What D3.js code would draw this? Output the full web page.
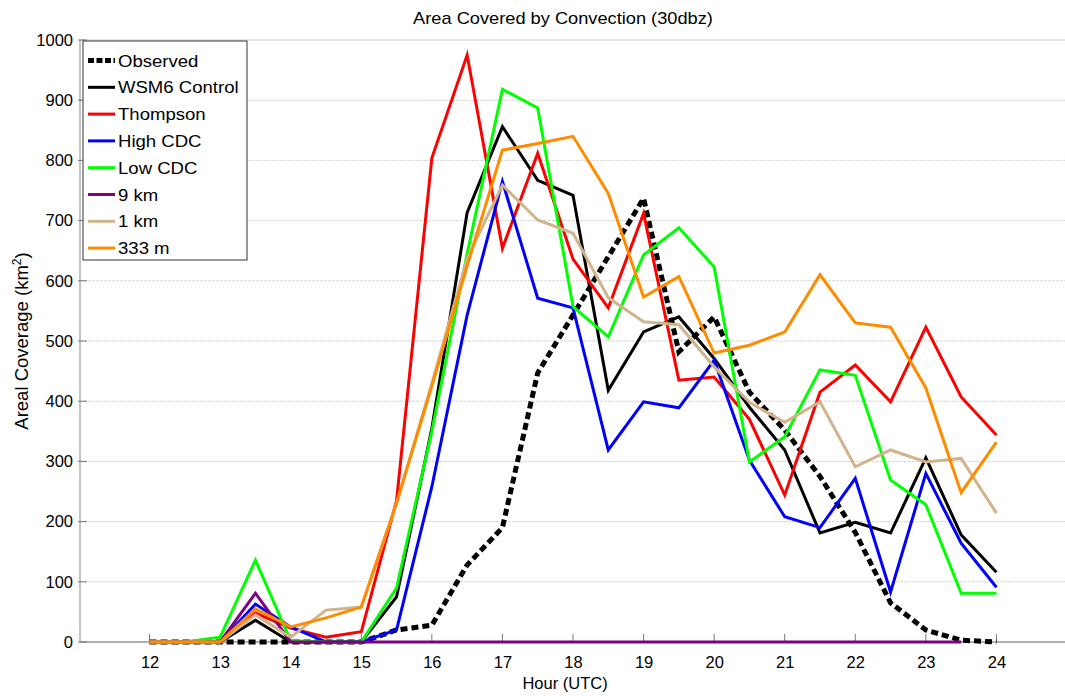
<!DOCTYPE html>
<html>
<head>
<meta charset="utf-8">
<script src="https://cdn.jsdelivr.net/npm/d3@7"></script>
<style>
  body { margin: 0; background: #fff; }
  svg { display: block; }
  text { font-family: "Liberation Sans", Arial, Helvetica, sans-serif; fill: #000; }
</style>
</head>
<body>
<svg id="chart" width="1065" height="696"></svg>
<script>
// Half-hourly samples, 12 UTC to 24 UTC
const hours = [12, 12.5, 13, 13.5, 14, 14.5, 15, 15.5, 16, 16.5, 17, 17.5, 18,
               18.5, 19, 19.5, 20, 20.5, 21, 21.5, 22, 22.5, 23, 23.5, 24];

// Areal coverage (km^2) of reflectivity >= 30 dBZ
const observed    = [0, 0, 0, 0, 0, 0, 0, 20, 28, 128, 190, 447, 543, 640, 737, 482, 540, 415, 352, 275, 182, 65, 20, 3, 0];
const wsm6Control = [0, 0, 0, 36, 0, 0, 0, 75, 355, 713, 856, 767, 742, 418, 515, 540, 471, 390, 319, 181, 199, 181, 306, 178, 116];
const thompson    = [0, 0, 0, 48, 23, 8, 17, 235, 804, 975, 654, 812, 636, 555, 712, 435, 440, 370, 244, 415, 460, 399, 523, 407, 344];
const highCDC     = [0, 0, 0, 63, 25, 0, 0, 20, 258, 543, 765, 571, 555, 319, 399, 389, 468, 302, 208, 190, 272, 83, 280, 164, 91];
const lowCDC      = [0, 0, 8, 136, 2, 0, 0, 90, 350, 645, 918, 887, 557, 507, 643, 688, 623, 299, 341, 452, 443, 269, 228, 81, 81];
const res9km      = [0, 0, 0, 81, 0, 0, 0, 0, 0, 0, 0, 0, 0, 0, 0, 0, 0, 0, 0, 0, 0, 0, 0, 0, null];
const res1km      = [0, 0, 0, 45, 8, 53, 58, 230, 430, 637, 759, 701, 679, 572, 532, 527, 457, 398, 365, 399, 291, 319, 299, 305, 214];
const res333m     = [0, 0, 0, 55, 25, 40, 58, 231, 425, 625, 817, 828, 840, 745, 573, 607, 480, 493, 515, 610, 530, 523, 422, 248, 332];

const seriesNames = ["Observed", "WSM6 Control", "Thompson", "High CDC", "Low CDC", "9 km", "1 km", "333 m"];
const seriesValues = [observed, wsm6Control, thompson, highCDC, lowCDC, res9km, res1km, res333m];

const xTickValues = [12, 13, 14, 15, 16, 17, 18, 19, 20, 21, 22, 23, 24];
const yTickValues = [0, 100, 200, 300, 400, 500, 600, 700, 800, 900, 1000];

// Line styling per series (same order as seriesNames)
const seriesStyle = [
  { color: "#000000", width: 5, dash: "7,4" },
  { color: "#000000", width: 3 },
  { color: "#ff0000", width: 3 },
  { color: "#0000ff", width: 3 },
  { color: "#00ff00", width: 3 },
  { color: "#800080", width: 3 },
  { color: "#d2b48c", width: 3 },
  { color: "#ff8c00", width: 3 }
];

const svg = d3.select("#chart");
const plotLeft = 80, plotTop = 40, plotBottom = 642, plotRight = 1065;

const x = d3.scaleLinear().domain([11, 25]).range([79, 1067]);
const y = d3.scaleLinear().domain([0, 1000]).range([plotBottom, plotTop]);

// Horizontal dotted grid
svg.append("g")
  .selectAll("line")
  .data(yTickValues)
  .join("line")
  .attr("x1", plotLeft).attr("x2", plotRight)
  .attr("y1", d => y(d)).attr("y2", d => y(d))
  .attr("stroke", d => d === 1000 ? "#c8c8c8" : "#d6d6d6")
  .attr("stroke-width", 1)
  .attr("stroke-dasharray", d => d === 1000 ? null : "3,1");

// Axis frame lines
svg.append("line")
  .attr("x1", plotLeft).attr("x2", plotLeft)
  .attr("y1", plotTop).attr("y2", plotBottom)
  .attr("stroke", "#8a8a8a").attr("stroke-width", 1);
svg.append("line")
  .attr("x1", plotLeft).attr("x2", plotRight)
  .attr("y1", plotBottom).attr("y2", plotBottom)
  .attr("stroke", "#9a9a9a").attr("stroke-width", 1.5);

// Inward tick marks
svg.append("g")
  .selectAll("line")
  .data(yTickValues)
  .join("line")
  .attr("x1", plotLeft - 2).attr("x2", plotLeft + 7)
  .attr("y1", d => y(d)).attr("y2", d => y(d))
  .attr("stroke", "#777").attr("stroke-width", 1);
svg.append("g")
  .selectAll("line")
  .data(xTickValues)
  .join("line")
  .attr("x1", d => x(d)).attr("x2", d => x(d))
  .attr("y1", plotBottom).attr("y2", plotBottom - 8)
  .attr("stroke", "#777").attr("stroke-width", 1);

// Tick labels via D3 axes
const yAxis = svg.append("g")
  .attr("transform", `translate(${plotLeft},0)`)
  .call(d3.axisLeft(y).tickValues(yTickValues).tickSize(0).tickPadding(7).tickFormat(d3.format("d")));
yAxis.select(".domain").remove();
yAxis.selectAll("text").style("font-size", "16.5px").style("font-family", "Liberation Sans, Arial, sans-serif").attr("fill", "#000");

const xAxis = svg.append("g")
  .attr("transform", `translate(0,${plotBottom})`)
  .call(d3.axisBottom(x).tickValues(xTickValues).tickSize(0).tickPadding(14).tickFormat(d3.format("d")));
xAxis.select(".domain").remove();
xAxis.selectAll("text").style("font-size", "16.5px").style("font-family", "Liberation Sans, Arial, sans-serif").attr("fill", "#000");

// Series lines
const lineGen = d3.line()
  .defined(d => d[1] !== null)
  .x(d => x(d[0]))
  .y(d => y(d[1]));

const seriesG = svg.append("g");
seriesValues.forEach((vals, i) => {
  const st = seriesStyle[i];
  seriesG.append("path")
    .datum(hours.map((h, j) => [h, vals[j]]))
    .attr("fill", "none")
    .attr("stroke", st.color)
    .attr("stroke-width", st.width)
    .attr("stroke-linejoin", "miter")
    .attr("stroke-dasharray", st.dash || null)
    .attr("d", lineGen);
});

// Title and axis labels
svg.append("text")
  .attr("transform", "translate(563,24) scale(1.14,1)")
  .attr("text-anchor", "middle")
  .style("font-size", "16px")
  .text("Area Covered by Convection (30dbz)");

svg.append("text")
  .attr("x", 565).attr("y", 689)
  .attr("text-anchor", "middle")
  .style("font-size", "16.5px")
  .text("Hour (UTC)");

const yLabel = svg.append("text")
  .attr("transform", "translate(28,341) rotate(-90)")
  .attr("text-anchor", "middle")
  .style("font-size", "18.5px");
yLabel.append("tspan").text("Areal Coverage (km");
yLabel.append("tspan").attr("dy", -7).style("font-size", "12px").text("2");
yLabel.append("tspan").attr("dy", 7).text(")");

// Legend
const legend = svg.append("g");
legend.append("rect")
  .attr("x", 83).attr("y", 41).attr("width", 164).attr("height", 219)
  .attr("fill", "#fff").attr("stroke", "#333").attr("stroke-width", 1);

seriesNames.forEach((name, i) => {
  const st = seriesStyle[i];
  const cy = 60.5 + i * 26.8;
  legend.append("line")
    .attr("x1", 88).attr("x2", 115)
    .attr("y1", cy).attr("y2", cy)
    .attr("stroke", st.color)
    .attr("stroke-width", st.width)
    .attr("stroke-dasharray", st.dash ? "6,2.5" : null);
  legend.append("text")
    .attr("transform", `translate(118,${cy + 6}) scale(1.16,1)`)
    .style("font-size", "16px")
    .text(name);
});
</script>
</body>
</html>
